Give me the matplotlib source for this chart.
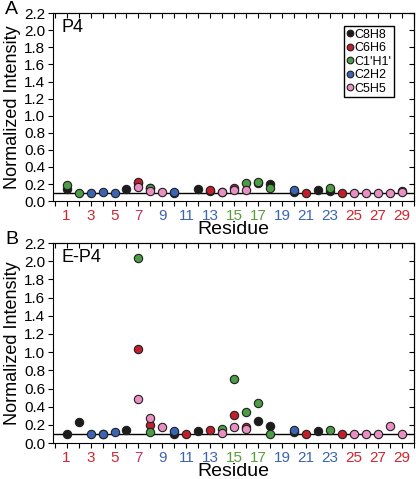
import numpy as np
import matplotlib.pyplot as plt

plt.rcParams['font.family'] = ['Liberation Sans', 'DejaVu Sans']

residues = np.arange(1, 30)
nan = np.nan

series_names = ["C8H8", "C6H6", "C1'H1'", "C2H2", "C5H5"]
series_colors = ["#1c1c1c", "#c01f2b", "#4c9c45", "#3c64b4", "#e98fc4"]

# panel A (P4): residue -> normalized intensity
p4 = {
    "C8H8": {1: 0.14, 6: 0.14, 7: 0.21, 8: 0.15, 10: 0.10, 12: 0.14, 13: 0.12,
             14: 0.11, 17: 0.21, 18: 0.20, 20: 0.11, 22: 0.13, 23: 0.12, 29: 0.12},
    "C6H6": {7: 0.23, 13: 0.13, 15: 0.16, 21: 0.10, 24: 0.10},
    "C1'H1'": {1: 0.19, 2: 0.10, 8: 0.16, 16: 0.21, 17: 0.23, 18: 0.15, 23: 0.16},
    "C2H2": {3: 0.10, 4: 0.11, 5: 0.10, 10: 0.11, 20: 0.13},
    "C5H5": {7: 0.17, 8: 0.12, 9: 0.11, 14: 0.11, 15: 0.13, 16: 0.13, 25: 0.10,
             26: 0.10, 27: 0.10, 28: 0.10, 29: 0.11},
}

# panel B (E-P4)
ep4 = {
    "C8H8": {1: 0.10, 2: 0.23, 4: 0.10, 6: 0.14, 10: 0.10, 12: 0.13, 17: 0.24,
             18: 0.19, 20: 0.12, 22: 0.13},
    "C6H6": {7: 1.03, 8: 0.20, 11: 0.10, 13: 0.14, 15: 0.31, 16: 0.18, 21: 0.10, 24: 0.10},
    "C1'H1'": {7: 2.04, 8: 0.12, 14: 0.16, 15: 0.71, 16: 0.34, 17: 0.44, 18: 0.10, 23: 0.14},
    "C2H2": {3: 0.10, 4: 0.10, 5: 0.12, 10: 0.13, 20: 0.14},
    "C5H5": {7: 0.49, 8: 0.28, 9: 0.18, 14: 0.11, 15: 0.18, 16: 0.15, 25: 0.10,
             26: 0.10, 27: 0.10, 28: 0.19, 29: 0.10},
}

tick_residues = [1, 3, 5, 7, 9, 11, 13, 15, 17, 19, 21, 23, 25, 27, 29]
tick_colors = ["#d0262e", "#d0262e", "#d0262e", "#c8306a", "#3c64b4", "#3c64b4",
               "#3c64b4", "#5a9c3a", "#5a9c3a", "#3c64b4", "#3c64b4", "#3c64b4",
               "#d0262e", "#d0262e", "#d0262e"]
baseline = 0.1


def panel(fig, rect, data, name, letter, legend=False):
    ax = fig.add_axes(rect)
    for s, c in zip(series_names, series_colors):
        y = np.array([data[s].get(r, nan) for r in residues])
        ax.plot(residues, y, 'o', ms=6, mfc=c, mec='#202020', mew=0.8,
                label=s, zorder=3)
    ax.axhline(baseline, color='k', lw=1.0, zorder=2)

    ax.set_xlim(-0.15, 30)
    ax.set_ylim(0, 2.2)
    ax.set_yticks(np.arange(0, 2.21, 0.2))
    ax.set_yticklabels(["%.1f" % v for v in np.arange(0, 2.21, 0.2)])
    ax.set_xticks(np.arange(0, 31))
    ax.set_xticklabels([str(r) if r in tick_residues else "" for r in range(31)])
    for lab, r in zip(ax.get_xticklabels(), range(31)):
        if r in tick_residues:
            lab.set_color(tick_colors[tick_residues.index(r)])
    ax.tick_params(direction='out', length=3.5, width=0.8, labelsize=11, pad=2)

    top = ax.secondary_xaxis('top')
    top.set_xticks(np.arange(0, 31))
    top.tick_params(direction='in', length=3.5, width=0.8, labeltop=False)
    right = ax.secondary_yaxis('right')
    right.set_yticks(np.arange(0, 2.21, 0.2))
    right.tick_params(direction='in', length=3.5, width=0.8, labelright=False)

    ax.set_ylabel("Normalized Intensity", fontsize=13, labelpad=2)
    ax.set_xlabel("Residue", fontsize=14, labelpad=-1)
    ax.text(0.025, 0.97, name, transform=ax.transAxes, fontsize=13,
            va='top', ha='left')
    fig.text(0.012, rect[1] + rect[3] + 0.008, letter, fontsize=14,
             va='center', ha='left')
    if legend:
        ax.legend(loc='upper right', bbox_to_anchor=(0.945, 0.93), fontsize=9,
                  handlelength=0.5, handletextpad=0.15, borderpad=0.2,
                  labelspacing=0.12, markerscale=0.8, fancybox=False,
                  framealpha=1, edgecolor='k', borderaxespad=0)
    return ax


fig = plt.figure(figsize=(4.16, 4.79), dpi=100)
panel(fig, [0.127, 0.580, 0.868, 0.3925], p4, "P4", "A", legend=True)
panel(fig, [0.127, 0.075, 0.868, 0.4175], ep4, "E-P4", "B")
fig.savefig("out.png", dpi=100)
